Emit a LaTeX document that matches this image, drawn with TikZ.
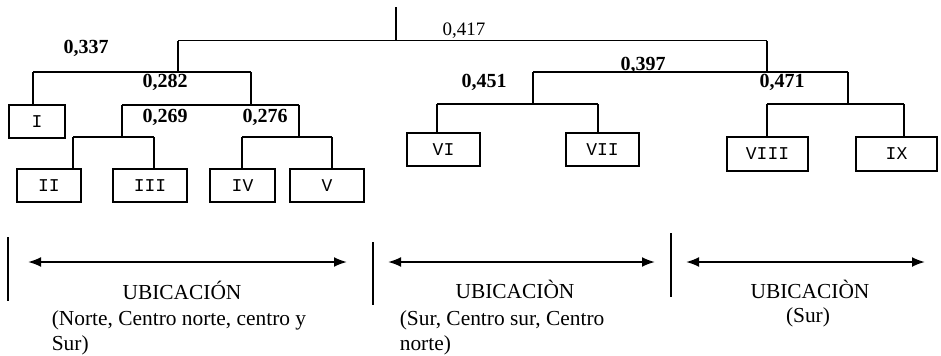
\documentclass[tikz,border=0pt]{standalone}
\usepackage{fontspec}
\setmainfont{Liberation Serif}
\setmonofont{Liberation Mono}
\usetikzlibrary{arrows.meta}

\begin{document}
\begin{tikzpicture}[x=0.5pt,y=-0.5pt,line width=0.8pt,
  grp/.style={draw,line width=1pt,inner sep=0pt,minimum height=16.5pt,
    font=\fontsize{9}{10}\selectfont\ttfamily},
  dist/.style={inner sep=0pt,font=\fontsize{10}{12}\selectfont\bfseries},
  zona/.style={inner sep=0pt,align=left,font=\fontsize{10.7}{12.5}\selectfont},
  >={Latex[length=6.5pt,width=5pt]}]

\useasboundingbox (0,0) rectangle (941,355);

% ------------------------------------------------ groups
\node[grp,minimum width=28pt]   (I)    at (37,121.5)  {I};
\node[grp,minimum width=32pt]   (II)   at (49,185.5)  {II};
\node[grp,minimum width=37pt]   (III)  at (150,185.5) {III};
\node[grp,minimum width=32.5pt] (IV)   at (242.5,185.5) {IV};
\node[grp,minimum width=37pt]   (V)    at (327,185.5) {V};
\node[grp,minimum width=36.5pt] (VI)   at (443.5,149.5) {VI};
\node[grp,minimum width=36.5pt] (VII)  at (602.5,149.5) {VII};
\node[grp,minimum width=40.5pt,minimum height=17pt] (VIII) at (767.5,154) {VIII};
\node[grp,minimum width=40.5pt,minimum height=17pt] (IX)   at (896.5,154) {IX};

% ------------------------------------------------ bar ends
\coordinate (top)  at (396,7);
\coordinate (a417) at (178,40.5);  \coordinate (b417) at (767,40.5);
\coordinate (a337) at (33,72);     \coordinate (b337) at (251,72);
\coordinate (a282) at (122,105);   \coordinate (b282) at (299,105);
\coordinate (a269) at (73,137);    \coordinate (b269) at (154,137);
\coordinate (a276) at (242,137);   \coordinate (b276) at (332,137);
\coordinate (a397) at (533,72);    \coordinate (b397) at (848,72);
\coordinate (a451) at (437,104);   \coordinate (b451) at (598,104);
\coordinate (a471) at (767,104);   \coordinate (b471) at (904,104);

% bars
\foreach \k in {417,337,282,269,276,397,451,471}
  \draw (a\k) -- (b\k);

% stems between bars
\draw (top) -- (top |- a417);
\foreach \p/\c in {a417/a337, b337/a282, a282/a269, b282/a276,
                   b417/a397, a397/a451, b397/a471}
  \draw (\p) -- (\p |- \c);

% stems down to the groups
\foreach \p/\g in {a337/I, a269/II, b269/III, a276/IV, b276/V,
                   a451/VI, b451/VII, a471/VIII, b471/IX}
  \draw (\p) -- (\p |- \g.north);

% ------------------------------------------------ distances
\node[inner sep=0pt,font=\fontsize{9.5}{11}\selectfont] (d417) at (464,31) {0,417};
\node[dist] (d337) at (86,48)   {0,337};
\node[dist] (d282) at (165,82)  {0,282};
\node[dist] (d269) at (165,117) {0,269};
\node[dist] (d276) at (265,117) {0,276};
\node[dist] (d451) at (484,82)  {0,451};
\node[dist] (d397) at (643,65)  {0,397};
\node[dist] (d471) at (782,82)  {0,471};

% ------------------------------------------------ zones
\coordinate (s1a) at (8,237);   \coordinate (s1b) at (8,301);
\coordinate (s2a) at (373,242); \coordinate (s2b) at (373,305);
\coordinate (s3a) at (671,233); \coordinate (s3b) at (671,297);
\foreach \i in {1,2,3}
  \draw[line width=1pt] (s\i a) -- (s\i b);

\coordinate (l1) at (28,262);  \coordinate (r1) at (347,262);
\coordinate (l2) at (388,262); \coordinate (r2) at (655,262);
\coordinate (l3) at (686,262); \coordinate (r3) at (925,262);
\foreach \i in {1,2,3}
  \draw[<->,line width=1pt] (l\i) -- (r\i);

\node[zona,anchor=base] (u1) at (182,299) {UBICACIÓN};
\node[zona,anchor=base west] (z1) at (51,350) {(Norte, Centro norte, centro y\\Sur)};
\node[zona,anchor=base] (u2) at (515,298) {UBICACIÒN};
\node[zona,anchor=base west] (z2) at (399,350) {(Sur, Centro sur, Centro\\norte)};
\node[zona,anchor=base] (u3) at (810,298) {UBICACIÒN};
\node[zona,anchor=base] (z3) at (808,322) {(Sur)};

\end{tikzpicture}
\end{document}
